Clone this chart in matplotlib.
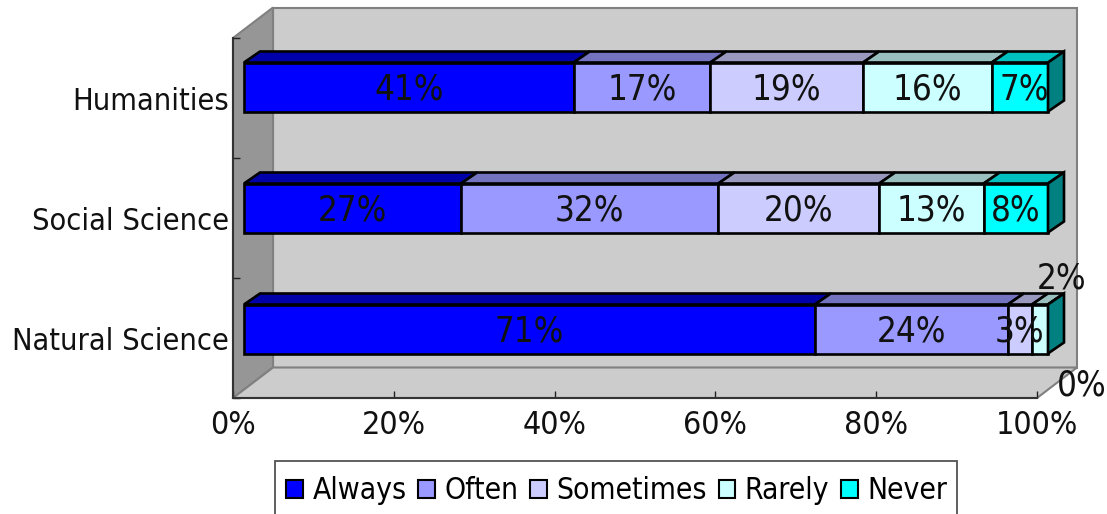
import matplotlib
matplotlib.use('Agg')
import matplotlib.pyplot as plt
from matplotlib.patches import Polygon, Patch, Rectangle
from matplotlib.transforms import Affine2D

# Percent of responses per discipline, bottom to top
categories = ['Natural Science', 'Social Science', 'Humanities']
responses = ['Always', 'Often', 'Sometimes', 'Rarely', 'Never']
always = [71, 27, 41]
often = [24, 32, 17]
sometimes = [3, 20, 19]
rarely = [2, 13, 16]
never = [0, 8, 7]
series = [always, often, sometimes, rarely, never]
x_ticks = [0, 20, 40, 60, 80, 100]

front_colors = ['#0000FF', '#9999FF', '#CCCCFF', '#CCFFFF', '#00FFFF']
top_colors = ['#0000AA', '#7373BF', '#9999BF', '#99BFBF', '#00BFBF']
side_color = '#008080'

plt.rcParams['font.family'] = ['DejaVu Sans']
TEXT_STRETCH = 'condensed'
TICK_SIZE = 23
CAT_SIZE = 22
LABEL_SIZE = 25
LEGEND_SIZE = 21.5
EDGE_W = 1.9

fig = plt.figure(figsize=(11.07, 5.14), dpi=100)
ax = fig.add_axes([233 / 1107, 1 - 398 / 514, 804 / 1107, 360 / 514])
ax.set_xlim(0, 100)
ax.set_ylim(0, 3)

# Pixel sizes expressed in data units
px_x = 100 / 804
px_y = 3 / 360
wall_dx = 40 * px_x
wall_dy = 30.5 * px_y
bar_dx = 16 * px_x
bar_dy = 11 * px_y

# Back wall, left wall and floor of the 3D box
wall_edge = '#808080'
ax.add_patch(Polygon([(wall_dx, wall_dy), (100 + wall_dx, wall_dy), (100 + wall_dx, 3 + wall_dy), (wall_dx, 3 + wall_dy)],
                     facecolor='#CCCCCC', edgecolor=wall_edge, linewidth=1.5, clip_on=False, zorder=0.5))
ax.add_patch(Polygon([(0, 0), (wall_dx, wall_dy), (wall_dx, 3 + wall_dy), (0, 3)],
                     facecolor='#969696', edgecolor=wall_edge, linewidth=1.5, clip_on=False, zorder=0.6))
ax.add_patch(Polygon([(0, 0), (100, 0), (100 + wall_dx, wall_dy), (wall_dx, wall_dy)],
                     facecolor='#CCCCCC', edgecolor=wall_edge, linewidth=1.5, clip_on=False, zorder=0.6))

# Bars sit a little inside the box, so shift them in pixels
shift = Affine2D().translate(11, 9)
bar_trans = ax.transData + shift
bar_h = 49 * px_y
bar_step = 121 * px_y

# Label nudges in pixels for the cramped segments: (category, series) -> (dx, dy)
nudges = {(0, 3): (22, 53), (0, 4): (34, -54), (2, 4): (4, 0)}

for i, cat in enumerate(categories):
    y = 0.5 + i * bar_step
    left = 0
    for j, vals in enumerate(series):
        v = vals[i]
        yt = y + bar_h / 2
        ax.barh(y, v, height=bar_h, left=left, color=front_colors[j], edgecolor='black',
                linewidth=EDGE_W, transform=bar_trans, clip_on=False, zorder=3)
        ax.add_patch(Polygon([(left, yt), (left + bar_dx, yt + bar_dy), (left + v + bar_dx, yt + bar_dy), (left + v, yt)],
                             facecolor=top_colors[j], edgecolor='black', linewidth=EDGE_W,
                             transform=bar_trans, clip_on=False, zorder=3))
        nx, ny = nudges.get((i, j), (0, 0))
        ax.text(left + v / 2 + nx * px_x, y + (ny + 1.5) * px_y, '{}%'.format(v), ha='center', va='center_baseline',
                fontsize=LABEL_SIZE, stretch=TEXT_STRETCH, color='#111111', transform=bar_trans, zorder=5, clip_on=False)
        left += v
    # Dark end cap of the stack
    yb = y - bar_h / 2
    yt = y + bar_h / 2
    ax.add_patch(Polygon([(left, yb), (left + bar_dx, yb + bar_dy), (left + bar_dx, yt + bar_dy), (left, yt)],
                         facecolor=side_color, edgecolor='black', linewidth=EDGE_W,
                         transform=bar_trans, clip_on=False, zorder=3))

for name in ['top', 'right']:
    ax.spines[name].set_visible(False)
for name in ['left', 'bottom']:
    ax.spines[name].set_color('#333333')
    ax.spines[name].set_linewidth(1.5)
    ax.spines[name].set_zorder(2)

ax.set_xticks(x_ticks)
ax.set_xticklabels(['{}%'.format(t) for t in x_ticks], fontsize=TICK_SIZE, stretch=TEXT_STRETCH, color='#111111')
ax.tick_params(axis='x', direction='in', length=5, width=1, color='#222222', pad=9)

# Category names go on the minor ticks, band edges on the major ticks
ax.set_yticks([0, 1, 2, 3])
ax.set_yticklabels([])
ax.tick_params(axis='y', which='major', direction='in', length=5, width=1, color='#222222')
ax.set_yticks([i + 0.5 for i in range(len(categories))], minor=True)
ax.set_yticklabels(categories, minor=True, fontsize=CAT_SIZE, stretch=TEXT_STRETCH, color='#111111')
ax.tick_params(axis='y', which='minor', length=0, pad=3)

# Legend box runs off the bottom edge of the figure, so its frame is drawn separately
fig.add_artist(Rectangle((275 / 1107, -0.05), 682 / 1107, 0.05 + 1 - 461 / 514, transform=fig.transFigure,
                         facecolor='white', edgecolor='#444444', linewidth=1.2))
handles = [Patch(facecolor=c, edgecolor='black', linewidth=1.5) for c in front_colors]
leg = fig.legend(handles, responses, ncol=5, loc='upper left', bbox_to_anchor=(275 / 1107, 1 - 465 / 514),
                 borderaxespad=0, frameon=False,
                 handlelength=0.56, handleheight=0.56, handletextpad=0.31, columnspacing=0.4,
                 borderpad=0.38, prop={'size': LEGEND_SIZE, 'stretch': TEXT_STRETCH})

fig.savefig('out.png', dpi=100)
